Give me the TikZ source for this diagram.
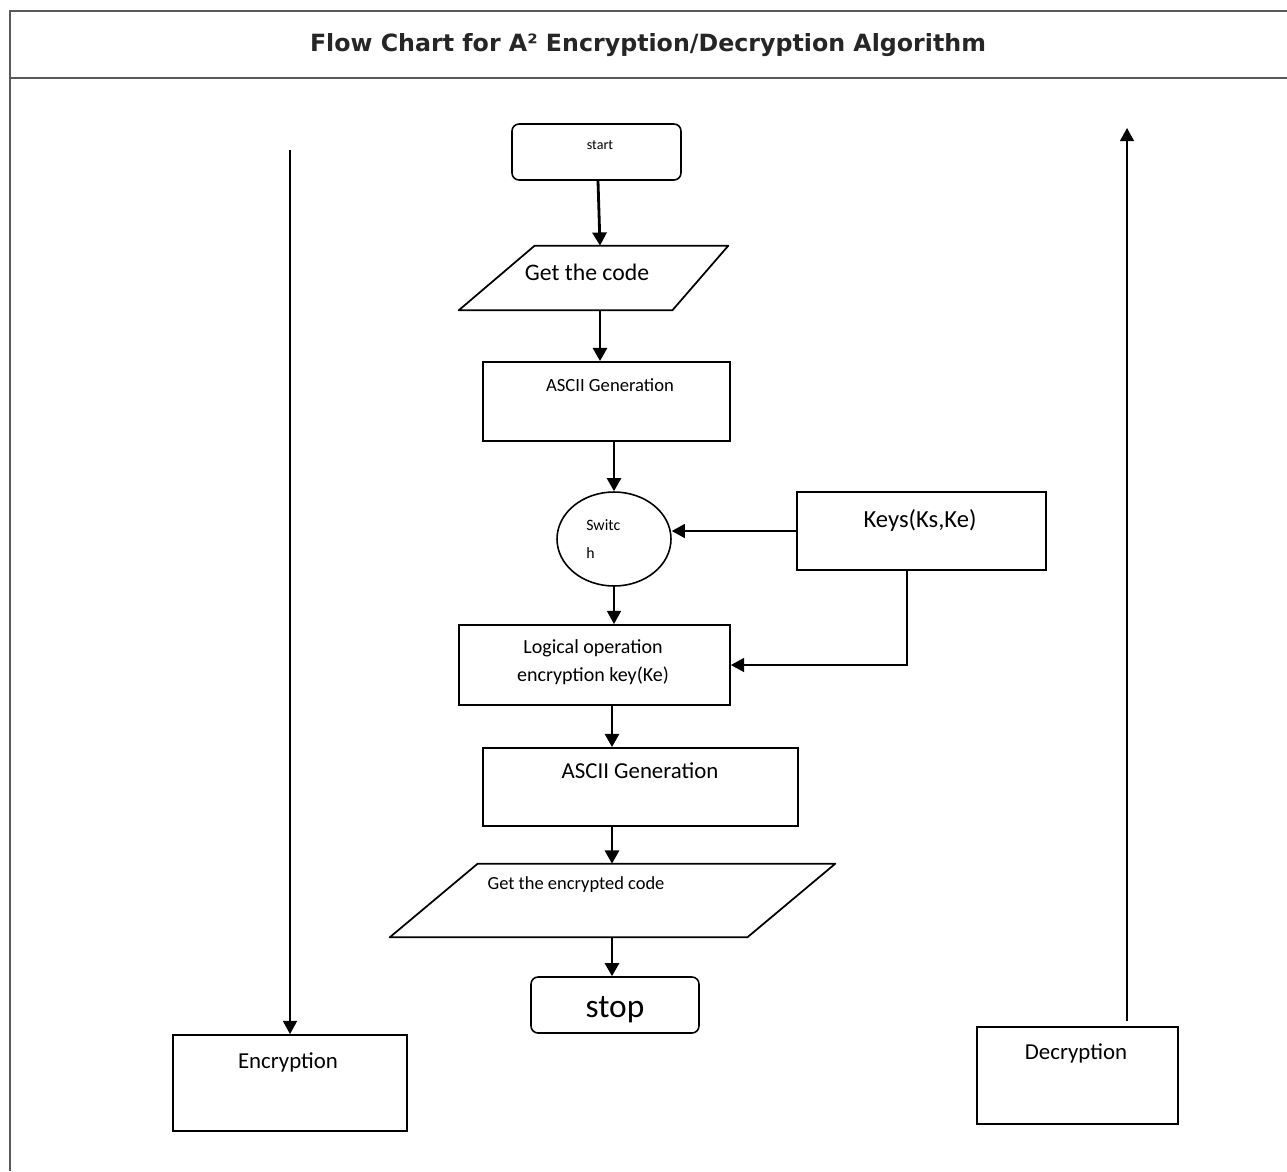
\documentclass[tikz,border=0pt]{standalone}
\usepackage{fontspec}
\setmainfont{Carlito}
\newfontfamily\titlefont{DejaVu Sans}
\usetikzlibrary{arrows.meta,shapes.geometric}
\tikzset{
  box/.style={draw,line width=1.1pt,inner sep=0pt},
  rbox/.style={box,rounded corners=4pt,line width=0.9pt},
  slot/.style={inner sep=0pt},
  io/.style={line width=1pt,line join=round},
  flow/.style={line width=1.6pt,-{Triangle[length=7.5pt,width=8pt]}},
  link/.style={line width=0.9pt,-{Triangle[length=7.5pt,width=8pt]}},
  txt/.style={inner sep=0pt,font=\fontsize{#1}{#1}\selectfont},
  txt/.default=13
}
\begin{document}
\begin{tikzpicture}[x=0.02cm,y=-0.02cm]
\useasboundingbox (0,0) rectangle (1287,1171);
\draw[line width=1pt,color=black!65] (10,1171) -- (10,11) -- (1287,11) (10,78) -- (1287,78);
\node[inner sep=0pt,font=\titlefont\bfseries\fontsize{13.5}{14}\selectfont,color=black!85] (title) at (648,45) {Flow Chart for A² Encryption/Decryption Algorithm};
\node[rbox,minimum width=3.38cm,minimum height=1.12cm] (start) at (596.5,152) {};
\node[slot,minimum width=5.38cm,minimum height=1.28cm] (code) at (593.5,278) {};
\draw[io] (code.south west) -- ([xshift=1.52cm]code.north west) -- (code.north east) -- ([xshift=-1.12cm]code.south east) -- cycle;
\node[box,minimum width=4.94cm,minimum height=1.58cm] (ascii1) at (606.5,401.5) {};
\node[draw,ellipse,line width=0.9pt,minimum width=2.28cm,minimum height=1.88cm] (switch) at (614,539) {};
\node[box,minimum width=4.98cm,minimum height=1.56cm] (keys) at (921.5,531) {};
\node[box,minimum width=5.42cm,minimum height=1.6cm] (logic) at (594.5,665) {};
\node[box,minimum width=6.3cm,minimum height=1.56cm] (ascii2) at (640.5,787) {};
\node[slot,minimum width=8.9cm,minimum height=1.46cm] (enc) at (612.5,900.5) {};
\draw[io] (enc.south west) -- ([xshift=1.76cm]enc.north west) -- (enc.north east) -- ([xshift=-1.76cm]enc.south east) -- cycle;
\node[rbox,minimum width=3.36cm,minimum height=1.12cm] (stop) at (615,1005) {};
\node[box,minimum width=4.68cm,minimum height=1.92cm] (encbox) at (290,1083) {};
\node[box,minimum width=4.02cm,minimum height=1.94cm] (decbox) at (1077.5,1075.5) {};
\node[txt=8] (startT) at (600,145) {start};
\node[txt=13.5] (codeT) at (587,272) {Get the code};
\node[txt=10.6] (ascii1T) at (610,385) {ASCII Generation};
\node[txt=9,align=left,anchor=west,font=\fontsize{9}{16}\selectfont] (switchT) at (586,539) {Switc\\h};
\node[txt=14] (keysT) at (920,520) {Keys(Ks,Ke)};
\node[txt=11.4,align=center,font=\fontsize{11.4}{16}\selectfont] (logicT) at (593,662) {Logical operation\\encryption key(Ke)};
\node[txt=13] (ascii2T) at (640,771) {ASCII Generation};
\node[txt=10.5] (encT) at (576,885) {Get the encrypted code};
\node[txt=19] (stopT) at (615,1010) {stop};
\node[txt=13] (encboxT) at (288,1062) {Encryption};
\node[txt=13] (decboxT) at (1076,1053) {Decryption};
\coordinate (encTop) at (290,150);
\coordinate (decTop) at (1127,128);
\draw[flow] (start.south -| 598,0) -- (code.north -| 600,0);
\draw[flow] (code.south -| 600,0) -- (ascii1.north -| 600,0);
\draw[flow] (ascii1.south -| switch.north) -- (switch.north);
\draw[link] (keys.west) -- (keys.west -| switch.east);
\draw[link] (switch.south) -- (switch.south |- logic.north);
\draw[link] (keys.south -| 907,0) |- (logic.east);
\draw[flow] (logic.south -| 612,0) -- (ascii2.north -| 612,0);
\draw[flow] (ascii2.south -| 612,0) -- (enc.north -| 612,0);
\draw[flow] (enc.south -| 612,0) -- (stop.north -| 612,0);
\draw[link] (encTop) -- (encbox.north);
\draw[link,shorten <=3pt] (decbox.north -| decTop) -- (decTop);
\end{tikzpicture}
\end{document}
